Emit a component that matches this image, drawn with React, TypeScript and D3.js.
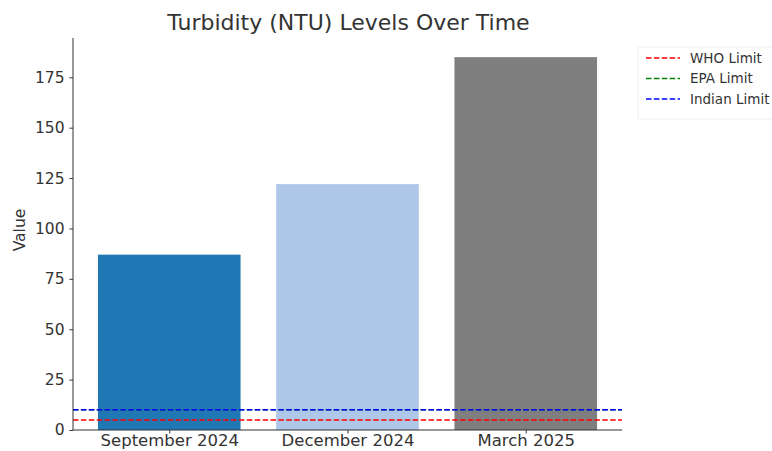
import { useEffect, useRef } from 'react';
import * as d3 from 'd3';

const categories = ['September 2024', 'December 2024', 'March 2025'];
const values = [87, 122, 185];
const barColors = ['#1f77b4', '#aec7e8', '#7f7f7f'];
const yTicks = [0, 25, 50, 75, 100, 125, 150, 175];
const limitNames = ['WHO Limit', 'EPA Limit', 'Indian Limit'];
const limitValues = [5, 10, 10];
const limitColors = ['red', 'green', 'blue'];

const App = () => {
  const ref = useRef<SVGSVGElement>(null);

  useEffect(() => {
    if (!ref.current) return;
    const svg = d3.select(ref.current);
    svg.selectAll('*').remove();

    const width = 772;
    const height = 451;
    const margin = { top: 38, right: 150, bottom: 21, left: 73 };
    const font = 'DejaVu Sans, sans-serif';
    const textColor = '#333';

    const innerW = width - margin.left - margin.right;
    const innerH = height - margin.top - margin.bottom;

    // matplotlib-like band: 0.54 padding at each end, bar width 0.8
    const n = categories.length;
    const step = innerW / (n - 1 + 2 * 0.54);
    const xCenter = d3.scaleLinear().domain([-0.54, n - 1 + 0.54]).range([0, innerW]);
    const barW = step * 0.8;

    const y = d3.scaleLinear().domain([0, 194.5]).range([innerH, 0]);

    const g = svg.append('g').attr('transform', `translate(${margin.left},${margin.top})`);

    // Title
    svg.append('text')
      .attr('x', margin.left + innerW / 2 + 1)
      .attr('y', 30)
      .attr('text-anchor', 'middle')
      .attr('font-family', font)
      .attr('font-size', 22)
      .attr('fill', textColor)
      .text('Turbidity (NTU) Levels Over Time');

    // Bars
    g.selectAll('rect.bar')
      .data(values)
      .join('rect')
      .attr('class', 'bar')
      .attr('x', (_, i) => xCenter(i) - barW / 2)
      .attr('width', barW)
      .attr('y', d => y(d))
      .attr('height', d => y(0) - y(d))
      .attr('fill', (_, i) => barColors[i]);

    // Limit lines
    g.selectAll('line.limit')
      .data(limitValues)
      .join('line')
      .attr('class', 'limit')
      .attr('x1', 0)
      .attr('x2', innerW)
      .attr('y1', d => y(d))
      .attr('y2', d => y(d))
      .attr('stroke', (_, i) => limitColors[i])
      .attr('stroke-width', 1.5)
      .attr('stroke-dasharray', '5.5,2.4');

    // Y axis
    const yAxis = g.append('g')
      .call(d3.axisLeft(y).tickValues(yTicks).tickSize(3.5).tickPadding(5));
    yAxis.select('.domain').attr('stroke', textColor).attr('d', `M0,${innerH}V0`);
    yAxis.selectAll('line').attr('stroke', textColor);
    yAxis.selectAll('text')
      .attr('font-family', font)
      .attr('font-size', 15.5)
      .attr('fill', textColor);

    // X axis
    const xAxis = g.append('g')
      .attr('transform', `translate(0,${innerH})`)
      .call(
        d3.axisBottom(xCenter)
          .tickValues(d3.range(n))
          .tickFormat((_, i) => categories[i])
          .tickSize(3.5)
          .tickPadding(1)
      );
    xAxis.select('.domain').attr('stroke', textColor).attr('d', `M0,0H${innerW}`);
    xAxis.selectAll('line').attr('stroke', textColor);
    xAxis.selectAll('text')
      .attr('font-family', font)
      .attr('font-size', 16.5)
      .attr('fill', textColor);

    // Y label
    svg.append('text')
      .attr('transform', `translate(25,${margin.top + innerH / 2 - 4}) rotate(-90)`)
      .attr('text-anchor', 'middle')
      .attr('font-family', font)
      .attr('font-size', 15.5)
      .attr('fill', textColor)
      .text('Value');

    // Legend
    const legend = svg.append('g').attr('transform', 'translate(638,47)');
    legend.append('rect')
      .attr('x', 0)
      .attr('y', 0)
      .attr('width', 150)
      .attr('height', 72)
      .attr('rx', 2)
      .attr('fill', 'white')
      .attr('fill-opacity', 0.8)
      .attr('stroke', '#eeeeee');
    limitNames.forEach((name, i) => {
      const yy = 11 + i * 20.5;
      legend.append('line')
        .attr('x1', 8)
        .attr('x2', 42)
        .attr('y1', yy)
        .attr('y2', yy)
        .attr('stroke', limitColors[i])
        .attr('stroke-width', 1.5)
        .attr('stroke-dasharray', '5.5,2.4');
      legend.append('text')
        .attr('x', 52)
        .attr('y', yy)
        .attr('dy', '0.35em')
        .attr('font-family', font)
        .attr('font-size', 13.5)
        .attr('fill', textColor)
        .text(name);
    });
  }, []);

  return (
    <svg
      ref={ref}
      width={772}
      height={451}
      style={{ position: 'absolute', left: 0, top: 0, background: 'white' }}
    />
  );
};

export default App;
